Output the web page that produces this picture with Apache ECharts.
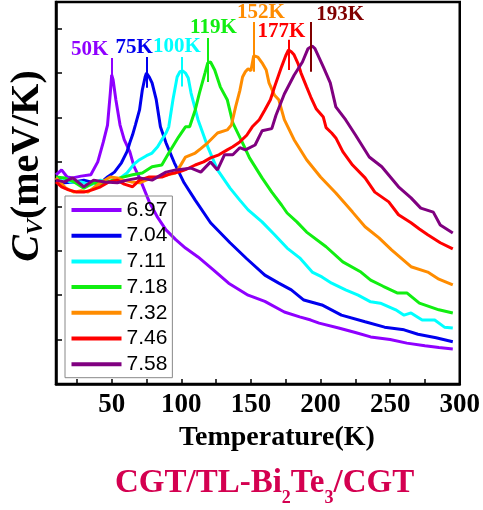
<!DOCTYPE html>
<html><head><meta charset="utf-8">
<script src="https://cdn.jsdelivr.net/npm/echarts@6/dist/echarts.min.js"></script>
<style>html,body{margin:0;padding:0;background:#fff}#c{width:483px;height:510px}</style>
</head><body><div id="c"></div>
<script>
// ---- data (temperature K, Cv in arbitrary meV/K units) ----
const seriesNames = ['6.97','7.04','7.11','7.18','7.32','7.46','7.58'];
const s697 = [[10,47.1],[14,48.2],[18,46.6],[22,46.4],[28,46.8],[35,47.1],[40,50.0],[44,54.5],[47,58.3],[49,65.5],[50,69.6],[51,68.5],[53,64.0],[56,58.3],[59,55.0],[63,52.3],[66,49.0],[70,46.4],[77,41.0],[83,37.5],[89,34.7],[96,32.5],[103,30.6],[112,28.6],[123,25.7],[134,22.7],[148,20.0],[160,18.6],[174,16.2],[185,15.1],[193,14.4],[199,13.7],[213,12.6],[225,11.6],[236,10.6],[250,10.0],[262,9.2],[275,8.6],[285,8.2],[295,7.9]];
const s704 = [[10,45.9],[16,45.3],[23,45.5],[30,45.9],[35,45.5],[41,45.0],[47,46.6],[52,47.7],[57,49.8],[61,52.3],[63,54.3],[65,56.1],[67,58.3],[70,61.7],[72,66.2],[74,69.1],[75,70.0],[77,69.1],[79,67.8],[82,64.0],[85,57.9],[89,54.3],[95,49.8],[102,45.3],[110,41.4],[121,36.3],[135,31.8],[147,28.2],[160,24.5],[170,22.7],[179,21.2],[188,18.9],[201,17.8],[215,15.5],[232,14.0],[246,12.8],[260,12.2],[270,11.2],[283,10.4],[295,9.5]];
const s711 = [[10,45.9],[15,46.4],[20,45.5],[28,45.5],[35,44.8],[42,45.9],[48,45.5],[54,45.9],[61,47.5],[66,49.5],[70,50.5],[75,51.4],[79,52.0],[83,53.4],[86,55.0],[89,56.5],[91,57.9],[94,64.0],[97,69.1],[99,70.3],[101,70.5],[103,70.0],[105,68.9],[107,65.5],[112,59.5],[119,53.4],[126,48.2],[135,44.1],[142,41.4],[148,39.2],[158,36.5],[167,33.6],[176,30.6],[185,28.4],[194,25.2],[201,24.1],[208,22.7],[218,21.2],[227,20.0],[236,18.5],[243,18.2],[254,16.7],[260,15.5],[265,16.0],[273,14.4],[282,14.4],[289,12.8],[295,12.6]];
const s718 = [[10,46.6],[16,46.4],[23,45.5],[30,44.1],[37,45.3],[42,45.0],[47,45.5],[56,46.4],[65,47.1],[72,47.5],[79,48.9],[86,49.3],[91,52.0],[98,55.6],[103,57.9],[106,57.9],[110,61.7],[113,65.5],[117,70.0],[119,72.3],[121,72.5],[124,70.7],[128,66.9],[133,64.0],[137,58.8],[144,54.3],[149,50.9],[158,46.4],[165,43.2],[172,40.3],[176,38.5],[183,36.5],[190,34.2],[204,30.9],[216,27.5],[229,25.2],[236,23.4],[245,22.0],[255,20.5],[262,20.5],[271,18.2],[285,16.7],[295,16.0]];
const s732 = [[10,46.4],[17,44.1],[23,43.2],[28,43.5],[33,43.2],[38,44.4],[42,45.3],[49,46.6],[54,46.4],[58,45.9],[64,45.5],[70,45.3],[77,46.2],[84,46.6],[90,47.1],[96,47.5],[100,49.5],[103,51.1],[110,52.0],[114,53.0],[119,54.3],[126,56.5],[133,57.2],[136,58.3],[139,62.4],[142,66.0],[144,69.1],[146,70.3],[148,71.0],[150,70.5],[152,73.9],[155,73.6],[158,72.3],[161,70.7],[163,67.8],[167,65.0],[170,64.0],[174,59.5],[181,55.0],[190,50.5],[200,46.6],[211,43.0],[223,38.7],[232,35.4],[242,32.9],[251,30.2],[265,26.4],[277,25.2],[285,23.6],[295,22.3]];
const s746 = [[10,45.5],[14,44.4],[19,43.7],[25,43.2],[30,43.2],[36,43.7],[42,44.4],[48,45.5],[54,45.9],[59,45.0],[65,44.4],[70,45.9],[77,46.6],[86,46.6],[92,47.3],[98,47.7],[104,48.4],[110,49.3],[116,50.0],[121,50.9],[127,51.6],[133,52.7],[137,53.4],[142,54.5],[147,56.0],[151,57.9],[156,59.5],[160,61.7],[164,64.0],[167,66.9],[170,69.6],[172,71.4],[175,73.9],[177,75.2],[179,74.8],[181,74.1],[184,72.0],[186,70.0],[190,66.9],[193,64.6],[197,61.9],[202,60.1],[204,57.7],[208,56.5],[211,55.4],[216,52.3],[223,49.3],[232,46.4],[239,43.2],[249,41.0],[256,38.1],[265,36.3],[271,34.9],[277,33.6],[286,31.8],[295,30.4]];
const s758 = [[10,45.9],[16,45.5],[22,46.4],[30,44.4],[37,45.9],[45,45.5],[54,45.3],[61,45.9],[70,46.4],[79,45.9],[89,47.7],[96,48.2],[107,48.6],[114,47.7],[121,50.0],[126,48.2],[131,51.6],[137,51.6],[142,53.2],[146,52.7],[153,53.8],[158,57.0],[165,57.5],[168,60.5],[174,65.3],[181,69.5],[187,72.5],[191,75.5],[194,76.1],[196,75.5],[202,71.4],[207,67.8],[211,62.4],[218,59.5],[225,56.1],[235,51.1],[244,48.9],[256,44.4],[265,41.9],[272,39.6],[281,38.7],[286,35.8],[295,34.0]];
const seriesData = [s697, s704, s711, s718, s732, s746, s758];
const peakTemps = [50, 75, 100, 119, 152, 177, 193];
const xTickValues = [25,50,75,100,125,150,175,200,225,250,275,300];
const xLabelValues = [50,100,150,200,250,300];

// ---- styles / layout ----
const colors = ['#8f00ff','#0000ee','#00ffff','#11ee11','#ff8c00','#ff0000','#800080'];
const markColors = ['#8f00ff','#0000ee','#00ffff','#11ee11','#ff8c00','#ff0000','#800000'];
const annotLayout = [
  {line:[73.4,68.0], label:[34.2,75.2]},
  {line:[73.6,66.7], label:[66.2,75.7]},
  {line:[73.6,67.0], label:[96.9,75.9]},
  {line:[77.9,68.0], label:[123.1,80.2]},
  {line:[81.5,70.3], label:[157.2,83.6]},
  {line:[77.5,70.7], label:[171.9,79.3]},
  {line:[81.5,70.3], label:[214.1,83.1]}
];
const SERIF = "'Liberation Serif','Times New Roman',serif";

const chart = echarts.init(document.getElementById('c'), null, {renderer:'canvas'});
const series = seriesNames.map((n, i) => ({
  name: n,
  type: 'line',
  data: seriesData[i],
  symbol: 'none',
  smooth: false,
  lineStyle: {color: colors[i], width: 3},
  itemStyle: {color: colors[i]},
  z: 2 + i * 0.01,
  markLine: {
    silent: true, symbol: ['none','none'], animation: false,
    label: {show: false},
    lineStyle: {color: markColors[i], width: 2, type: 'solid'},
    data: [[{coord: [peakTemps[i], annotLayout[i].line[0]]}, {coord: [peakTemps[i], annotLayout[i].line[1]]}]]
  },
  markPoint: {
    silent: true, animation: false,
    symbol: 'rect', symbolSize: 1,
    itemStyle: {color: 'rgba(0,0,0,0)'},
    label: {show: true, position: 'inside', formatter: peakTemps[i] + 'K', color: markColors[i],
      fontSize: 21, fontWeight: 'bold', fontFamily: SERIF},
    data: [{coord: annotLayout[i].label}]
  }
}));

chart.setOption({
  animation: false,
  backgroundColor: '#fff',
  title: {
    text: '{a|CGT/TL-Bi}{s|2}{a|Te}{s|3}{a|/CGT}',
    left: 110, top: 462,
    textStyle: {
      rich: {
        a: {fontSize: 33, fontWeight: 'bold', fontFamily: SERIF, color: '#d40050', lineHeight: 32, verticalAlign: 'top'},
        s: {fontSize: 18, fontWeight: 'bold', fontFamily: SERIF, color: '#d40050', lineHeight: 62, verticalAlign: 'middle'}
      }
    }
  },
  grid: {left: 54, right: 20, top: 2, bottom: 126, show: true, borderColor: '#000', borderWidth: 2.5, backgroundColor: 'transparent'},
  legend: {
    data: seriesNames,
    orient: 'vertical', left: 65, top: 196,
    icon: 'rect', itemWidth: 50, itemHeight: 4, itemGap: 4.7, itemTextGap: 5,
    padding: [3.5, 5, 3, 6.5],
    borderColor: '#888', borderWidth: 1, backgroundColor: 'transparent',
    textStyle: {fontSize: 21, color: '#000', fontFamily: "'Liberation Sans',Arial,sans-serif", lineHeight: 21}
  },
  xAxis: {
    type: 'value', min: 10, max: 300,
    axisLine: {show: true, lineStyle: {color: '#000', width: 2.5}},
    axisTick: {show: true, inside: true, length: 5, customValues: xTickValues, lineStyle: {color: '#000', width: 1.5}},
    axisLabel: {customValues: xLabelValues, color: '#000', fontSize: 27, fontWeight: 'bold', fontFamily: SERIF, margin: 8},
    splitLine: {show: false},
    name: 'Temperature(K)', nameLocation: 'middle', nameGap: 38,
    nameTextStyle: {color: '#000', fontSize: 28, fontWeight: 'bold', fontFamily: SERIF, padding: [0,0,0,38]}
  },
  yAxis: {
    type: 'value', min: 0, max: 86, interval: 10,
    axisLine: {show: true, lineStyle: {color: '#000', width: 2.5}},
    axisTick: {show: true, inside: true, length: 6, lineStyle: {color: '#000', width: 1.5}},
    axisLabel: {show: false},
    splitLine: {show: false},
    name: '{c|C}{s|V}{n|(meV/K)}', nameLocation: 'middle', nameRotate: 90, nameGap: 8,
    nameTextStyle: {
      padding: [0,0,0,54],
      rich: {
        c: {fontSize: 40, fontWeight: 'bold', fontStyle: 'italic', fontFamily: SERIF, color: '#000', lineHeight: 40},
        s: {fontSize: 24, fontWeight: 'bold', fontStyle: 'italic', fontFamily: SERIF, color: '#000', lineHeight: 24, verticalAlign: 'bottom', padding: [12,0,0,0]},
        n: {fontSize: 40, fontWeight: 'bold', fontFamily: SERIF, color: '#000', lineHeight: 40}
      }
    }
  },
  series: series
});
</script></body></html>
